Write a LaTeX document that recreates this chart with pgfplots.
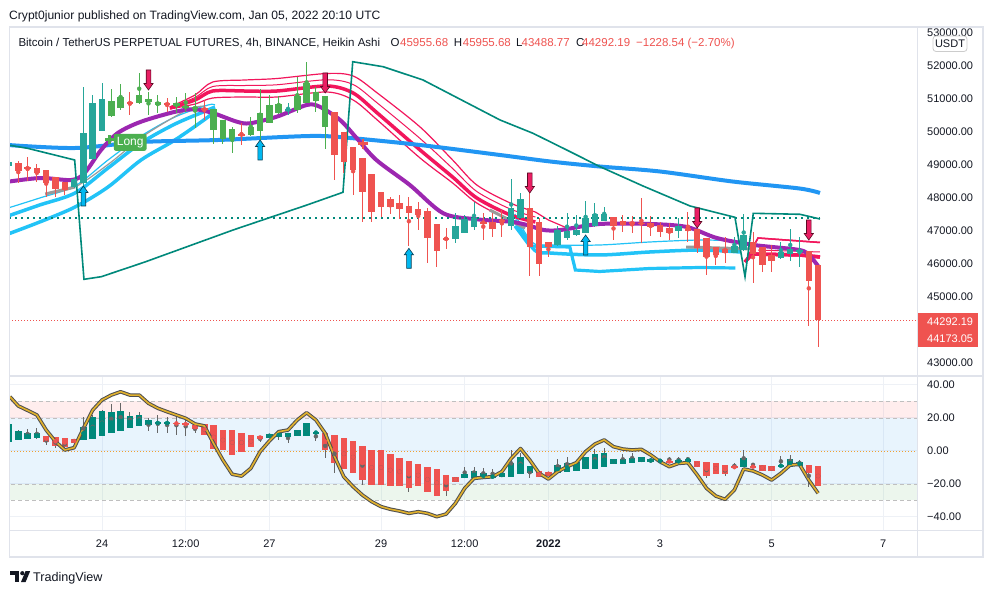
\documentclass[border=0pt]{standalone}
\usepackage{fontspec}
\setmainfont{Liberation Sans}
\usepackage{pgfplots}
\pgfplotsset{compat=1.18}
\usepackage{pgfplotstable}
\usepgfplotslibrary{fillbetween}

\definecolor{tvtext}{HTML}{131722}
\definecolor{tvgrid}{HTML}{EEF1F6}
\definecolor{tvborder}{HTML}{E0E3EB}
\definecolor{tvred}{HTML}{EF5350}
\definecolor{tvteal}{HTML}{26A69A}
\definecolor{tvgreen}{HTML}{4CAF50}
\definecolor{oscteal}{HTML}{00897B}
\definecolor{tvblue}{HTML}{2196F3}
\definecolor{tvpurple}{HTML}{9C27B0}
\definecolor{tvpink}{HTML}{F2165C}
\definecolor{tvpinkfill}{HTML}{FFD3DE}
\definecolor{tvcyan}{HTML}{22C3F7}
\definecolor{tvcyanfill}{HTML}{CDEFFC}
\definecolor{stteal}{HTML}{00897B}
\definecolor{tvgray}{HTML}{9A9A9A}
\definecolor{arrred}{HTML}{E91E63}
\definecolor{arrredd}{HTML}{5C0A24}
\definecolor{arrcyan}{HTML}{00B8F0}
\definecolor{arrcyand}{HTML}{083D52}
\definecolor{gold}{HTML}{E1B12C}
\definecolor{goldout}{HTML}{4F4F4F}
\definecolor{bandred}{HTML}{FF5252}
\definecolor{bandgreen}{HTML}{4CAF50}
\definecolor{zeroor}{HTML}{F0A030}

\pgfdeclareplotmark{sigdown}{%
  \pgfpathmoveto{\pgfqpoint{-2.3pt}{20pt}}%
  \pgfpathlineto{\pgfqpoint{2.3pt}{20pt}}%
  \pgfpathlineto{\pgfqpoint{2.3pt}{6.5pt}}%
  \pgfpathlineto{\pgfqpoint{4.6pt}{6.5pt}}%
  \pgfpathlineto{\pgfqpoint{0pt}{0pt}}%
  \pgfpathlineto{\pgfqpoint{-4.6pt}{6.5pt}}%
  \pgfpathlineto{\pgfqpoint{-2.3pt}{6.5pt}}%
  \pgfpathclose
  \pgfusepathqfillstroke}
\pgfdeclareplotmark{sigup}{%
  \pgfpathmoveto{\pgfqpoint{-2.3pt}{-20pt}}%
  \pgfpathlineto{\pgfqpoint{2.3pt}{-20pt}}%
  \pgfpathlineto{\pgfqpoint{2.3pt}{-6.5pt}}%
  \pgfpathlineto{\pgfqpoint{4.6pt}{-6.5pt}}%
  \pgfpathlineto{\pgfqpoint{0pt}{0pt}}%
  \pgfpathlineto{\pgfqpoint{-4.6pt}{-6.5pt}}%
  \pgfpathlineto{\pgfqpoint{-2.3pt}{-6.5pt}}%
  \pgfpathclose
  \pgfusepathqfillstroke}

\pgfplotsset{
  cwick/.style={only marks, mark=none, color=#1, error bars/y dir=both, error bars/y explicit, error bars/error mark=none, error bars/error bar style={line width=1pt, color=#1, solid}},
  cbody/.style={only marks, mark=none, color=#1, error bars/y dir=both, error bars/y explicit, error bars/error mark=none, error bars/error bar style={line width=6.5pt, color=#1, solid}},
}

% Main panel Heikin Ashi candles: i O H L C
\pgfplotstableread{
i O H L C
-10 48979 49152 48939 49100
-3 48342 48606 48303 48567
-2 48446 51373 48221 49979
-1 49191 51121 49152 50870
0 50039 51476 50030 50991
20 50658 50888 50515 50688
38 46767 47536 46627 47152
39 46948 47485 46939 47355
40 47130 47888 47030 47385
44 47161 48576 47030 47688
45 47403 48142 47394 47961
49 46576 47161 46545 47030
50 46797 47536 46727 47000
51 46879 47485 46848 47030
52 46948 47918 46939 47385
53 47152 47839 47121 47515
54 47312 47736 47303 47515
62 47009 47385 46779 47152
68 46342 46827 46333 46545
69 46424 47515 46394 46879
73 46173 46676 46152 46373
74 46294 47052 46100 46445
75 46373 46809 45900 46424
}\mteal

\pgfplotstableread{
i O H L C
1 50485 51303 50455 50939
2 50718 51455 50667 51052
4 50870 51779 50848 51121
5 50900 51221 50515 50991
6 50818 51121 50576 50918
8 50788 51070 50567 50870
9 50718 51182 50606 50797
10 50688 51182 50121 50767
12 50061 50697 49636 50688
13 49779 50364 49627 50364
14 49779 50161 49355 50082
16 49900 50445 49879 50161
17 50039 51294 49758 50567
18 50282 51121 50273 50818
19 50567 51091 50545 50839
21 50667 51658 50567 51100
22 50888 52130 50879 51476
23 50948 51373 50615 51203
24 50161 51091 49485 51091
}\mgreen

\pgfplotstableread{
i O H L C
-9 49052 49121 48446 48827
-8 48949 49233 48524 48870
-7 48900 49030 48494 48749
-6 48848 48848 48021 48446
-5 48627 48645 48021 48273
-4 48494 48494 48091 48242
3 50900 51203 50515 50858
7 50870 51030 50606 50827
11 50718 50970 50364 50667
15 49939 50264 49606 49900
25 50615 50615 48545 49303
26 50000 50000 48749 49100
27 49536 49536 48091 48848
28 49203 49203 47282 48191
29 48727 48727 47282 47585
30 48173 48173 47433 47736
31 47961 48039 47515 47736
32 47839 48091 47355 47667
33 47758 48039 46555 47555
34 47667 47888 47030 47485
35 47606 47706 46021 46797
36 47212 47212 45900 46394
37 46779 47082 46445 46748
41 47282 47536 46727 47233
42 47282 47536 46827 47070
43 47333 47636 46827 47288
46 47688 48142 45636 46524
47 47282 47394 45636 46000
48 46676 46676 46221 46506
55 47415 47424 46727 47142
56 47303 47485 46979 47182
57 47273 47455 46948 47212
58 47252 47991 46627 47203
59 47233 47455 46848 47112
60 47173 47282 46809 46979
61 47100 47233 46727 46930
63 47100 47585 46676 47009
64 47052 47052 46324 46494
65 46779 46779 45667 46221
66 46524 46524 45970 46273
67 46445 46827 46021 46324
70 46676 46979 45433 46303
71 46506 46506 45767 45970
72 46273 46576 45767 46100
76 46394 46394 44130 45494
77 45956 45956 43489 44292
}\mred

% Oscillator candles: i O H L C
\pgfplotstableread{
i O H L C
-10 5.7 16.4 5.7 16.4
-9 6.7 12.7 6.7 12.3
-8 7.3 13.3 7.3 11.1
-7 7.7 13.7 7.0 11.1
-2 6.7 20.8 6.7 14.7
-1 7.3 22.0 7.3 20.8
0 9.3 25.0 9.3 24.2
1 10.7 28.3 10.7 23.8
2 12.1 28.9 12.1 24.2
3 14.1 23.8 14.1 21.4
4 15.3 23.8 15.3 21.8
5 15.8 19.8 12.1 18.8
6 16.2 21.8 11.1 17.8
7 16.2 20.8 10.7 17.8
18 8.1 10.3 8.1 10.3
19 8.7 12.7 6.7 10.7
20 8.7 10.7 5.1 10.7
21 9.1 12.7 9.1 12.7
22 9.3 17.2 9.3 17.2
23 10.7 11.7 6.1 11.7
39 -16.2 -9.9 -16.2 -13.9
40 -16.6 -9.5 -16.6 -12.1
41 -16.6 -10.5 -16.6 -13.5
42 -16.6 -11.0 -16.6 -14.5
43 -15.6 -13.5 -15.6 -13.5
44 -15.6 0.6 -15.6 -7.5
45 -13.9 -1.5 -13.9 -3.4
46 -13.1 -9.1 -16.6 -9.1
49 -13.5 -5.0 -13.5 -8.5
50 -12.5 -3.5 -12.5 -7.5
51 -11.9 -6.5 -11.9 -6.5
52 -11.1 -3.8 -11.1 -3.8
53 -10.9 1.0 -10.9 -1.8
54 -9.5 2.0 -9.5 -1.0
55 -8.1 -4.8 -8.1 -4.8
56 -8.1 -2.0 -8.1 -4.8
57 -7.5 -1.0 -7.5 -4.0
58 -6.9 -3.8 -6.9 -3.8
59 -6.9 -4.6 -6.9 -4.6
60 -6.3 -5.5 -6.3 -5.6
62 -7.1 -3.6 -7.1 -5.5
63 -6.5 -3.5 -6.5 -4.6
69 -9.5 0.6 -9.5 -4.4
73 -9.5 -3.0 -9.5 -8.5
74 -9.5 -2.4 -9.5 -5.0
75 -9.1 -5.3 -9.1 -6.5
}\oteal

\pgfplotstableread{
i O H L C
-6 9.1 9.1 3.6 5.7
-5 8.7 8.7 1.6 3.0
-4 7.7 7.7 0.6 2.6
-3 7.1 7.1 5.0 5.0
8 17.2 21.8 9.5 16.2
9 16.8 20.8 9.1 15.8
10 15.8 15.8 11.0 13.1
11 16.4 16.4 9.7 9.7
12 15.8 15.8 1.0 1.0
13 12.7 12.7 0.6 0.6
14 12.7 12.7 -2.4 -2.4
15 10.7 10.7 -0.4 -0.4
16 9.7 9.7 2.2 2.2
17 9.1 9.1 5.7 7.3
24 10.7 10.7 -4.4 0.6
25 9.7 9.7 -13.1 -7.5
26 7.7 7.7 -11.1 -11.1
27 6.1 6.1 -13.5 -13.5
28 3.0 3.0 -20.6 -17.6
29 0.6 0.6 -20.6 -20.6
30 0.6 0.6 -20.6 -20.6
31 -2.0 -2.0 -21.2 -21.2
32 -4.0 -4.0 -21.2 -21.2
33 -5.9 -5.9 -24.6 -22.6
34 -8.1 -8.1 -21.2 -21.2
35 -9.9 -9.9 -24.6 -24.6
36 -11.1 -11.1 -27.3 -27.3
37 -14.5 -14.5 -27.0 -24.0
38 -15.9 -15.9 -18.6 -18.6
47 -12.1 -12.1 -16.0 -16.0
48 -12.5 -12.5 -15.2 -15.2
61 -5.9 -3.5 -6.9 -6.9
64 -5.9 -5.9 -9.9 -9.9
65 -6.5 -6.5 -16.6 -15.2
66 -7.1 -7.1 -14.1 -14.1
67 -8.5 -8.5 -15.0 -13.9
68 -9.1 -7.5 -10.5 -10.5
70 -9.2 -7.0 -9.8 -9.8
71 -8.5 -8.5 -11.9 -11.9
72 -9.1 -9.1 -11.9 -11.9
76 -8.5 -8.5 -21.6 -13.5
77 -9.1 -9.1 -21.2 -21.2
}\ored

\begin{document}
\begin{tikzpicture}
\fill[white] (0pt,0pt) rectangle (993pt,-593pt);

% ================= MAIN PANEL =================
\begin{axis}[
  at={(10pt,-376pt)}, anchor=south west,
  width=907pt, height=349pt, scale only axis,
  xmin=-9.8925, xmax=87.634,
  ymin=42606, ymax=53182,
  axis line style={draw=none},
  major tick length=0pt,
  xtick={0,9,18,30,39,48,60,72,84}, xticklabels={},
  ytick={43000,44000,45000,46000,47000,48000,49000,50000,51000,52000,53000},
  yticklabels={43000.00,{},45000.00,46000.00,47000.00,48000.00,49000.00,50000.00,51000.00,52000.00,53000.00},
  ytick pos=right, yticklabel pos=right,
  yticklabel style={anchor=west, inner sep=0pt, xshift=10pt, font=\fontsize{11}{13}\selectfont, text=tvtext},
  grid=major, grid style={line width=1pt, draw=tvgrid},
  scaled y ticks=false,
]
% --- cyan ribbon (left) ---
\addplot[name path=cyT, draw=tvcyan, line width=1.2pt, smooth] coordinates {(-10.1,47697)(-6.7,48000)(-2.9,48364)(0.65,49152)(4.2,49879)(7.85,50455)(11.4,50818)(12.15,50818)};
\addplot[name path=cyM, draw=tvcyan, line width=3.5pt, smooth] coordinates {(-10.1,47455)(-6.7,47788)(-2.9,48152)(0.65,48909)(4.2,49667)(7.85,50242)(11.4,50667)(12.15,50758)};
\addplot[tvcyanfill] fill between[of=cyT and cyM];
\addplot[draw=tvcyan, line width=3.5pt, smooth] coordinates {(-10.1,46909)(-6.7,47273)(-2.9,47727)(0.65,48333)(4.2,49152)(7.85,49758)(11.4,50455)(12.15,50667)};
% --- cyan ribbon (right) ---
\addplot[name path=cyTR, draw=tvcyan, line width=1.2pt, smooth] coordinates {(44.4,47515)(46.2,46667)(48.2,46576)(53.5,46576)(58.9,46667)(64.3,46727)(68.6,46697)};
\addplot[name path=cyMR, draw=tvcyan, line width=3.5pt, smooth] coordinates {(44.4,47333)(46.5,46424)(48.2,46333)(53.5,46273)(58.9,46364)(64.3,46424)(68.6,46364)};
\addplot[tvcyanfill] fill between[of=cyTR and cyMR];
\addplot[draw=tvcyan, line width=3.2pt] coordinates {(44.4,47152)(46,46545)(50.3,46515)(50.9,45818)(53.5,45773)(58.9,45864)(64.3,45894)(68.1,45879)};
% --- pink ribbon (left) ---
\addplot[name path=pkT, draw=tvpink, line width=1.2pt, smooth] coordinates {(7.3,50758)(10,51121)(11.9,51515)(15.4,51576)(18.8,51621)(24.2,51773)(27,51697)(29.6,51182)(34.2,50152)(37.7,49152)(40.3,48394)(43.9,47848)(46.6,47576)};
\addplot[name path=pkB, draw=tvpink, line width=1.2pt, smooth] coordinates {(7.3,50697)(10,50848)(11.9,51030)(15.4,51061)(18.8,51061)(24.2,51212)(27,50970)(29.6,50364)(34.2,49212)(37.7,48455)(40.3,47848)(43.9,47333)(46.6,47152)};
\addplot[tvpinkfill] fill between[of=pkT and pkB];
\addplot[draw=tvpink, line width=1pt, smooth] coordinates {(7.3,50742)(10,51045)(11.9,51378)(15.4,51409)(18.8,51431)(24.2,51583)(27,51439)(29.6,50879)(34.2,49803)(37.7,48894)(40.3,48197)(43.9,47666)(46.6,47424)};
\addplot[draw=tvpink, line width=3.5pt, smooth] coordinates {(7.3,50727)(10,50970)(11.9,51242)(15.4,51242)(18.8,51242)(24.2,51394)(27,51182)(29.6,50576)(34.2,49455)(37.7,48636)(40.3,48000)(43.9,47485)(46.6,47273)};
\addplot[draw=tvpink, line width=1.2pt] coordinates {(46.6,47576)(48,47333)(50,47091)};
% --- pink ribbon (right) ---
\addplot[name path=pkTR, draw=tvpink, line width=1.5pt] coordinates {(69.14,46061)(70.54,46788)(77.2,46652)};
\addplot[name path=pkMR, draw=tvpink, line width=3.5pt] coordinates {(69.14,46061)(69.89,46303)(75.05,46273)(77.2,46212)};
\addplot[tvpinkfill] fill between[of=pkTR and pkMR];
\addplot[draw=tvpink, line width=1.5pt] coordinates {(69.14,46061)(70.54,46788)(77.2,46652)};
\addplot[draw=tvpink, line width=1pt] coordinates {(70.54,46424)(77.2,46364)};
\addplot[draw=tvpink, line width=3.5pt] coordinates {(69.14,46061)(69.89,46303)(75.05,46273)(77.2,46212)};
% --- gray transition lines ---
\addplot[draw=tvgray, line width=1.2pt, smooth] coordinates {(-6.1,48121)(-2.9,48333)(0.86,49061)(4.62,49909)(9.14,50667)(11.08,50788)};
\addplot[draw=tvgray, line width=3pt] coordinates {(-6.1,48121)(-2.9,48333)};
\addplot[draw=tvgray, line width=3pt] coordinates {(41.7,47636)(45.5,47091)};
\addplot[draw=tvgray, line width=3pt] coordinates {(62.8,46515)(70,46455)};
% --- blue MA ---
\addplot[draw=tvblue, line width=4pt, smooth] coordinates {(-10.1,49606)(-2.9,49515)(4.2,49697)(12.5,49758)(22.4,49879)(26.7,49818)(34.2,49606)(42.8,49303)(48.2,49106)(53.5,48955)(60,48803)(67.8,48500)(75,48288)(77.2,48152)};
% --- purple MA ---
\addplot[draw=tvpurple, line width=4pt, smooth] coordinates {(-10.1,48494)(-6.6,48606)(-3.3,48545)(-1.9,48749)(-0.1,49455)(1.7,49970)(4.2,50312)(7.9,50615)(10,50688)(12,50567)(14.5,50312)(15.9,50264)(18.8,50464)(22,50818)(23.4,50767)(25.6,50364)(27.4,49809)(29.5,49152)(33.1,48394)(36.7,47536)(40.3,47355)(43.9,47282)(45.7,47182)(47.5,47030)(49.3,47030)(53.5,47212)(59,47212)(62.9,47121)(66.1,46788)(70.1,46576)(75,46424)(76.1,46243)(77,45939)};
% --- teal trailing stop ---
\addplot[draw=stteal, line width=1.6pt] coordinates {(-10.1,49606)(-8,49506)(-2.94,49152)(-1.94,45536)(-0.08,45615)(4.62,46061)(14.09,47030)(22.04,47788)(25.91,48173)(26.96,52130)(30.22,51979)(34.52,51576)(42.8,50364)(46.34,49961)(49.97,49455)(53.55,48949)(58.17,48364)(63.23,47758)(68.06,47415)(69.14,45615)(70.03,47536)(75.05,47506)(77.2,47364)};
% --- dotted levels ---
\addplot[draw=stteal, line width=2pt, dash pattern=on 2pt off 4pt] coordinates {(-10,47379)(77.2,47379)};
\addplot[draw=tvred, line width=0.8pt, dash pattern=on 1pt off 2pt] coordinates {(-10,44292)(88,44292)};
% --- candles ---
\addplot[cwick=tvteal] table[x=i, y expr={(\thisrow{H}+\thisrow{L})/2}, y error expr={(\thisrow{H}-\thisrow{L})/2}]{\mteal};
\addplot[cbody=tvteal] table[x=i, y expr={(\thisrow{O}+\thisrow{C})/2}, y error expr={abs(\thisrow{O}-\thisrow{C})/2}]{\mteal};
\addplot[cwick=tvgreen] table[x=i, y expr={(\thisrow{H}+\thisrow{L})/2}, y error expr={(\thisrow{H}-\thisrow{L})/2}]{\mgreen};
\addplot[cbody=tvgreen] table[x=i, y expr={(\thisrow{O}+\thisrow{C})/2}, y error expr={abs(\thisrow{O}-\thisrow{C})/2}]{\mgreen};
\addplot[cwick=tvred] table[x=i, y expr={(\thisrow{H}+\thisrow{L})/2}, y error expr={(\thisrow{H}-\thisrow{L})/2}]{\mred};
\addplot[cbody=tvred] table[x=i, y expr={(\thisrow{O}+\thisrow{C})/2}, y error expr={abs(\thisrow{O}-\thisrow{C})/2}]{\mred};
% --- signals ---
\addplot[only marks, mark=sigdown, mark options={fill=arrred, draw=arrredd, line width=0.6pt}] coordinates {(-9.96,49606)(5,51273)(24,51182)(46,48152)(64,47091)(76,46727)};
\addplot[only marks, mark=sigup, mark options={fill=arrcyan, draw=arrcyand, line width=0.6pt}] coordinates {(-2,48364)(17,49758)(33,46476)(52,46879)};
\addplot[only marks, mark=+, mark size=4.5pt, mark options={line width=2.8pt, color=tvgreen}] coordinates {(0.83,49767)};
\addplot[only marks, mark=+, mark size=5pt, mark options={line width=2.8pt, color=tvred}] coordinates {(28.06,49651)};
\node[fill=tvgreen, text=white, rounded corners=2pt, inner xsep=3pt, inner ysep=0pt, minimum height=17pt, font=\fontsize{12}{14}\selectfont] at (axis cs:3.03,49688) {Long};
\end{axis}

% ================= OSCILLATOR PANEL =================
\begin{axis}[
  at={(10pt,-530pt)}, anchor=south west,
  width=907pt, height=154pt, scale only axis,
  xmin=-9.8925, xmax=87.634,
  ymin=-47.88, ymax=45.45,
  axis line style={draw=none},
  major tick length=0pt,
  xtick={0,9,18,30,39,48,60,72,84},
  xticklabels={24,12:00,27,29,12:00,\textbf{2022},3,5,7},
  xticklabel style={anchor=center, yshift=-14pt, font=\fontsize{11}{13}\selectfont, text=tvtext},
  ytick={-40,-20,0,20,40},
  yticklabels={−40.00,−20.00,0.00,20.00,40.00},
  ytick pos=right, yticklabel pos=right,
  yticklabel style={anchor=west, inner sep=0pt, xshift=10pt, font=\fontsize{11}{13}\selectfont, text=tvtext},
  grid=major, grid style={line width=1pt, draw=tvgrid},
]
\addplot[fill=bandred, fill opacity=0.1, draw=none] coordinates {(-12,20)(90,20)(90,30)(-12,30)} -- cycle;
\addplot[fill=tvblue, fill opacity=0.1, draw=none] coordinates {(-12,-20)(90,-20)(90,20)(-12,20)} -- cycle;
\addplot[fill=bandgreen, fill opacity=0.1, draw=none] coordinates {(-12,-30)(90,-30)(90,-20)(-12,-20)} -- cycle;
\addplot[draw=black!25, line width=0.8pt, dash pattern=on 4pt off 3pt] coordinates {(-12,30)(90,30)};
\addplot[draw=black!25, line width=0.8pt, dash pattern=on 4pt off 3pt] coordinates {(-12,20)(90,20)};
\addplot[draw=black!25, line width=0.8pt, dash pattern=on 4pt off 3pt] coordinates {(-12,-20)(90,-20)};
\addplot[draw=black!25, line width=0.8pt, dash pattern=on 4pt off 3pt] coordinates {(-12,-30)(90,-30)};
\addplot[draw=zeroor, line width=0.8pt, dash pattern=on 1pt off 2pt] coordinates {(-12,0)(90,0)};
% candles
\addplot[cwick=black!60] table[x=i, y expr={(\thisrow{H}+\thisrow{L})/2}, y error expr={(\thisrow{H}-\thisrow{L})/2}]{\oteal};
\addplot[cwick=black!60] table[x=i, y expr={(\thisrow{H}+\thisrow{L})/2}, y error expr={(\thisrow{H}-\thisrow{L})/2}]{\ored};
\addplot[cbody=oscteal] table[x=i, y expr={(\thisrow{O}+\thisrow{C})/2}, y error expr={abs(\thisrow{O}-\thisrow{C})/2}]{\oteal};
\addplot[cbody=tvred] table[x=i, y expr={(\thisrow{O}+\thisrow{C})/2}, y error expr={abs(\thisrow{O}-\thisrow{C})/2}]{\ored};
% oscillator line
\addplot[draw=goldout, line width=3.6pt, line join=round] coordinates {(-9.9,32.9)(-9,27.3)(-8,24.6)(-7,21.8)(-6,12.7)(-5,5.7)(-4,0.6)(-3,2.0)(-2,13.7)(-1,24.8)(0,30.9)(1,33.9)(2,35.9)(3,33.9)(4,33.9)(5,28.9)(6,25.9)(7,23.8)(8,21.8)(9,19.8)(10,16.4)(11,15.2)(12,4.6)(13,-5.5)(14,-14.1)(15,-15.2)(16,-10.5)(17,-0.4)(18,6.1)(19,11.7)(20,12.7)(21,18.8)(22,23.2)(23,18.8)(24,10.7)(25,-3.4)(26,-15.6)(27,-21.6)(28,-26.7)(29,-30.7)(30,-33.7)(31,-35.3)(32,-36.4)(33,-37.8)(34,-36.8)(35,-37.8)(36,-39.8)(37,-38.2)(38,-31.7)(39,-22.6)(40,-16.6)(41,-16)(42,-15.6)(43,-12.5)(44,-4.5)(45,1.5)(46,-5.5)(47,-13.5)(48,-17)(49,-12.5)(50,-9.5)(51,-7.1)(52,-0.4)(53,4.2)(54,6.7)(55,2.6)(56,1.2)(57,0.6)(58,1.0)(59,-2.4)(60,-6.5)(61,-9.5)(62,-7.5)(63,-7.1)(64,-14.5)(65,-22.6)(66,-27.3)(67,-29.3)(68,-23.6)(69,-10.9)(70,-12.1)(71,-14.5)(72,-17.6)(73,-13.5)(74,-8.5)(75,-8.1)(76,-17.6)(77,-25.6)};
\addplot[draw=gold, line width=1.6pt, line join=round] coordinates {(-9.9,32.9)(-9,27.3)(-8,24.6)(-7,21.8)(-6,12.7)(-5,5.7)(-4,0.6)(-3,2.0)(-2,13.7)(-1,24.8)(0,30.9)(1,33.9)(2,35.9)(3,33.9)(4,33.9)(5,28.9)(6,25.9)(7,23.8)(8,21.8)(9,19.8)(10,16.4)(11,15.2)(12,4.6)(13,-5.5)(14,-14.1)(15,-15.2)(16,-10.5)(17,-0.4)(18,6.1)(19,11.7)(20,12.7)(21,18.8)(22,23.2)(23,18.8)(24,10.7)(25,-3.4)(26,-15.6)(27,-21.6)(28,-26.7)(29,-30.7)(30,-33.7)(31,-35.3)(32,-36.4)(33,-37.8)(34,-36.8)(35,-37.8)(36,-39.8)(37,-38.2)(38,-31.7)(39,-22.6)(40,-16.6)(41,-16)(42,-15.6)(43,-12.5)(44,-4.5)(45,1.5)(46,-5.5)(47,-13.5)(48,-17)(49,-12.5)(50,-9.5)(51,-7.1)(52,-0.4)(53,4.2)(54,6.7)(55,2.6)(56,1.2)(57,0.6)(58,1.0)(59,-2.4)(60,-6.5)(61,-9.5)(62,-7.5)(63,-7.1)(64,-14.5)(65,-22.6)(66,-27.3)(67,-29.3)(68,-23.6)(69,-10.9)(70,-12.1)(71,-14.5)(72,-17.6)(73,-13.5)(74,-8.5)(75,-8.1)(76,-17.6)(77,-25.6)};
\end{axis}

% ================= FRAME & TEXT =================
\begin{scope}[x=1pt,y=1pt]
\fill[white] (0,-27) rectangle (9.3,-560);
\draw[tvborder, line width=2.5pt] (9,-27) -- (984,-27);
\draw[tvborder, line width=1.5pt] (9.5,-27) -- (9.5,-557);
\draw[tvborder, line width=2.5pt] (9,-557) -- (984,-557);
\draw[tvborder, line width=1.5pt] (983,-27) -- (983,-557);
\draw[tvborder, line width=1pt] (917,-27) -- (917,-557);
\draw[tvborder, line width=1.5pt] (10,-376) -- (983,-376);
\draw[tvborder, line width=1pt] (10,-530) -- (983,-530);
% USDT box
\draw[draw=black!20, fill=white, rounded corners=3pt, line width=0.8pt] (933,-36) rectangle (967,-51.5);
\node[font=\fontsize{11}{13}\selectfont, text=tvtext, inner sep=0pt] at (950,-43.8) {USDT};
% price label
\fill[tvred] (917.5,-313) rectangle (978,-347);
\node[anchor=west, inner sep=0pt, font=\fontsize{11}{13}\selectfont, text=white] at (927,-321.5) {44292.19};
\node[anchor=west, inner sep=0pt, font=\fontsize{11}{13}\selectfont, text=white] at (927,-338.5) {44173.05};
% titles
\node[anchor=base west, inner sep=0pt, font=\fontsize{12.1}{14}\selectfont, text=tvtext] at (9,-19.3) {Crypt0junior published on TradingView.com, Jan 05, 2022 20:10 UTC};
\begin{scope}[every node/.style={anchor=base west, inner sep=0pt, font=\fontsize{11.5}{14}\selectfont}]
\node[text=tvtext] at (18.3,-46.5) {Bitcoin / TetherUS PERPETUAL FUTURES, 4h, BINANCE, Heikin Ashi};
\node[text=tvtext] at (390.5,-46.5) {O};
\node[text=tvred] at (400,-46.5) {45955.68};
\node[text=tvtext] at (453.7,-46.5) {H};
\node[text=tvred] at (462.7,-46.5) {45955.68};
\node[text=tvtext] at (516,-46.5) {L};
\node[text=tvred] at (521.5,-46.5) {43488.77};
\node[text=tvtext] at (576,-46.5) {C};
\node[text=tvred] at (582,-46.5) {44292.19};
\node[text=tvred] at (636,-46.5) {−1228.54 (−2.70\%)};
\end{scope}
% TradingView logo
\fill[tvtext] (10,-571) rectangle (19,-575);
\fill[tvtext] (14.5,-575) rectangle (19,-582);
\fill[tvtext] (22.3,-573.2) circle (2.1);
\fill[tvtext] (21,-582) -- (25.6,-571) -- (30.2,-571) -- (25.6,-582) -- cycle;
\node[anchor=base west, inner sep=0pt, font=\fontsize{12.6}{15}\selectfont, text=tvtext] at (33,-581) {TradingView};
\end{scope}
\end{tikzpicture}
\end{document}
